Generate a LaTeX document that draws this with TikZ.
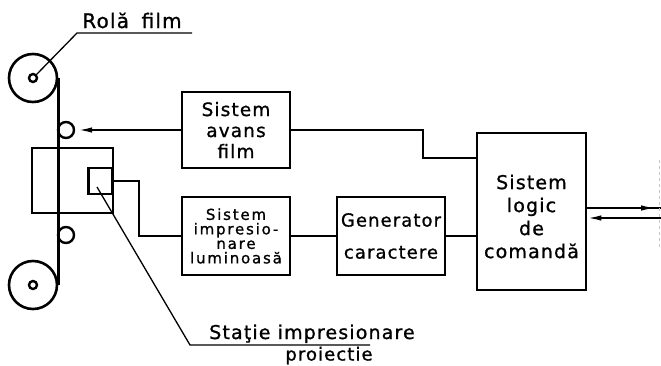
\documentclass[tikz,border=0pt]{standalone}
\usepackage{fontspec}
\newfontfamily\lit[LetterSpace=6,FakeBold=1]{DejaVu Sans}
\newfontfamily\litlarg[LetterSpace=12,FakeBold=1]{DejaVu Sans}
\usetikzlibrary{arrows.meta,decorations.markings}

\begin{document}
\begin{tikzpicture}[x=1pt,y=-1pt,>={Latex[length=14pt,width=5.5pt]},
        bloc/.style={draw,line width=2.8pt,inner sep=0pt,align=center,minimum width=108pt},
        rola/.style={draw,circle,line width=2.6pt,inner sep=0pt,minimum size=48pt},
        ax/.style={draw,circle,line width=2.4pt,inner sep=0pt,minimum size=8pt},
        rol/.style={draw,circle,line width=2.4pt,inner sep=0pt,minimum size=16pt},
        conn/.style={line width=1.8pt},
        lead/.style={line width=1.3pt}]
        \useasboundingbox (0,0) rectangle (661,365);
        % film and reels
        \node[rola] (rolaSus) at (33,78) {};
        \node[ax] (axSus) at (33,78) {};
        \node[rola] (rolaJos) at (33,285) {};
        \node[ax] (axJos) at (33,285) {};
        \draw[line width=2.8pt] (rolaSus.east) -- (rolaJos.east);
        \node[rol] (rolSus) at (66,130) {};
        \node[rol] (rolJos) at (66,235) {};
        % projection station
        \node[draw,line width=2.6pt,inner sep=0pt,minimum width=81pt,minimum height=65pt] (statie) at (72.5,180.5) {};
        \node[draw,line width=2.6pt,inner sep=0pt,minimum width=24pt,minimum height=26pt] (patrat) at (100.5,181) {};
        % blocks
        \node[bloc,minimum height=76pt,font=\lit\fontsize{18.5}{21}\selectfont] (avans) at (236,130) {Sistem\\avans\\film};
        \node[bloc,minimum height=78pt,font=\litlarg\fontsize{15}{14.5}\selectfont] (impr) at (236,236) {Sistem\\impresio-\\nare\\luminoasă};
        \node[bloc,minimum height=78pt,font=\lit\fontsize{18}{21}\selectfont] (gen) at (391,236) {Generator\\[11pt]caractere};
        \node[bloc,minimum width=109pt,minimum height=157pt,
              label={[yshift=-5pt,align=center,font=\lit\fontsize{19}{23}\selectfont]center:Sistem\\logic\\de\\comandă}] (logic) at (531.5,211.5) {};
        % connections
        \draw[conn,->,shorten >=3pt] (avans.west) -- (rolSus.east);
        \coordinate (cot) at (423,158);
        \draw[conn] (avans.east) -| (cot) -- (cot -| logic.west);
        \draw[conn] (patrat.east) -- ++(25,0) |- (impr.west);
        \draw[conn] (impr) -- (gen);
        \draw[conn] (gen.east) -- (gen.east -| logic.west);
        \coordinate (iesire) at (661,208);
        \coordinate (intrare) at (661,218);
        \draw[conn,postaction=decorate,
              decoration={markings,mark=at position 0.92 with {\arrow{>}}}] (iesire -| logic.east) -- (iesire);
        \draw[conn,->] (intrare) -- (intrare -| logic.east);
        \draw[gray!45,dashed,line width=1pt] (659,160) -- (659,250);
        % labels
        \coordinate (cotRola) at (77,33);
        \coordinate (capRola) at (192,33);
        \draw[lead] (axSus.north east) -- (cotRola) -- (capRola);
        \node[anchor=base,font=\lit\fontsize{20}{22}\selectfont] (txtRola) at (132,28) {Rolă\hspace{5pt} film};
        \coordinate (startStatie) at (97,187);
        \coordinate (cotStatie) at (190,345);
        \coordinate (capStatie) at (370,345);
        \draw[lead] (startStatie) -- (cotStatie) -- (capStatie);
        \node[anchor=base,font=\lit\fontsize{19}{21}\selectfont] (txtStatie) at (312,339) {Staţie impresionare};
        \node[anchor=base,font=\lit\fontsize{18}{21}\selectfont] (txtProiectie) at (329,360.5) {proiectie};
\end{tikzpicture}
\end{document}
